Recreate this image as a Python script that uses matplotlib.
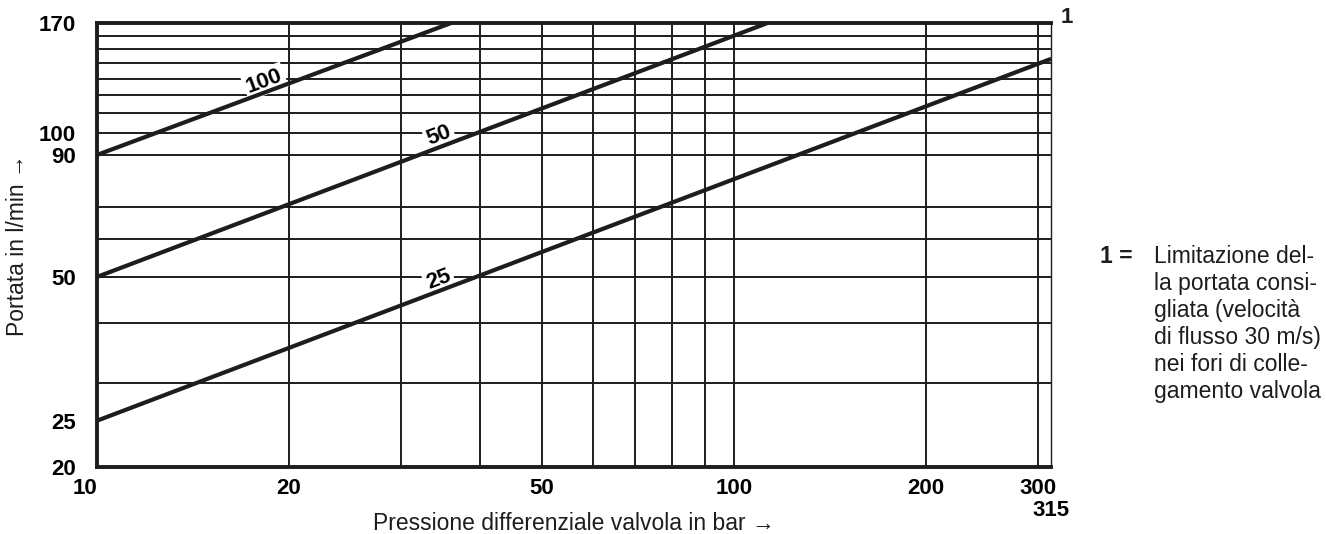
import numpy as np
import matplotlib
matplotlib.use("Agg")
import matplotlib.pyplot as plt
from matplotlib.ticker import FixedLocator, FixedFormatter, NullLocator

# flow characteristics: end points (pressure drop in bar, flow in l/min)
curve_names = ["100", "50", "25"]
dp_start = [10, 10, 10]
q_start = [90, 50, 25]
dp_end = [36, 113, 315]
q_end = [170, 170, 143]
label_flow = [130, 100, 50]  # grid line on which each curve name sits

x_ticks = [10, 20, 50, 100, 200, 300]
y_ticks = [20, 25, 50, 90, 100, 170]
x_grid = [20, 30, 40, 50, 60, 70, 80, 90, 100, 200, 300]
y_grid = [30, 40, 50, 60, 70, 90, 100, 110, 120, 130, 140, 150, 160]

note = ("Limitazione del-\nla portata consi-\ngliata (velocità\n"
        "di flusso 30 m/s)\nnei fori di colle-\ngamento valvola")

INK = "#1d1d1d"
TXT = ["Liberation Sans", "DejaVu Sans"]
NUM = dict(family=["Liberation Sans", "DejaVu Sans"], weight="bold", size=16)

fig = plt.figure(figsize=(13.26, 5.34), dpi=100)
ax = fig.add_axes([0.0732, 0.1255, 0.7195, 0.8315])
ax.set_xscale("log")
ax.set_yscale("log")
ax.set_xlim(10, 315)
ax.set_ylim(20, 170)

ax.xaxis.set_major_locator(FixedLocator(x_ticks))
ax.xaxis.set_major_formatter(FixedFormatter([str(v) for v in x_ticks]))
ax.xaxis.set_minor_locator(NullLocator())
ax.yaxis.set_major_locator(FixedLocator(y_ticks))
ax.yaxis.set_major_formatter(FixedFormatter([str(v) for v in y_ticks]))
ax.yaxis.set_minor_locator(NullLocator())
ax.tick_params(which="both", length=0)
ax.tick_params(axis="x", pad=8)
ax.tick_params(axis="y", pad=15)
for lab in ax.get_xticklabels() + ax.get_yticklabels():
    lab.set(**NUM)
ax.get_xticklabels()[0].set_ha("right")

for v in x_grid:
    ax.axvline(v, color=INK, lw=1.4, zorder=1)
for v in y_grid:
    ax.axhline(v, color=INK, lw=1.4, zorder=1)

for side in ["left", "bottom", "top"]:
    ax.spines[side].set_linewidth(2.8)
    ax.spines[side].set_color(INK)
ax.spines["right"].set_linewidth(1.0)
ax.spines["right"].set_color(INK)

for name, x0, y0, x1, y1, ql in zip(curve_names, dp_start, q_start, dp_end, q_end, label_flow):
    ax.plot([x0, x1], [y0, y1], color=INK, lw=3.0, solid_capstyle="butt", zorder=4)
    # where the curve crosses the label's grid line (straight in log-log)
    t = (np.log10(ql) - np.log10(y0)) / (np.log10(y1) - np.log10(y0))
    xc = 10 ** (np.log10(x0) + t * (np.log10(x1) - np.log10(x0)))
    p0, p1 = ax.transData.transform([(x0, y0), (x1, y1)])
    angle = np.degrees(np.arctan2(p1[1] - p0[1], p1[0] - p0[0]))
    ax.annotate(name, xy=(xc, ql), xytext=(-27, -2), textcoords="offset points",
                ha="center", va="center", rotation=angle, rotation_mode="anchor",
                zorder=3, bbox=dict(boxstyle="square,pad=0.12", fc="white", ec="none"),
                **NUM)

ax.annotate("1", xy=(1, 1), xycoords="axes fraction", xytext=(7, 4),
            textcoords="offset points", ha="left", va="center",
            family=TXT, weight="bold", size=16, color=INK)
ax.annotate("315", xy=(315, 0), xycoords=ax.get_xaxis_transform(), xytext=(0, -31),
            textcoords="offset points", ha="center", va="center", **NUM)

ax.set_xlabel("Pressione differenziale valvola in bar →", family=TXT, size=16.5,
              labelpad=9, color=INK)
ax.set_ylabel("Portata in l/min →", family=TXT, size=16.5, color=INK)
ax.yaxis.set_label_coords(-0.071, 0.5)

fig.text(0.8296, 0.541, "1 =", family=TXT, weight="bold", size=16.5, va="top", color=INK)
fig.text(0.8703, 0.541, note, family=TXT, size=16.5, va="top", linespacing=1.22, color=INK)

fig.savefig("out.png", dpi=100)
